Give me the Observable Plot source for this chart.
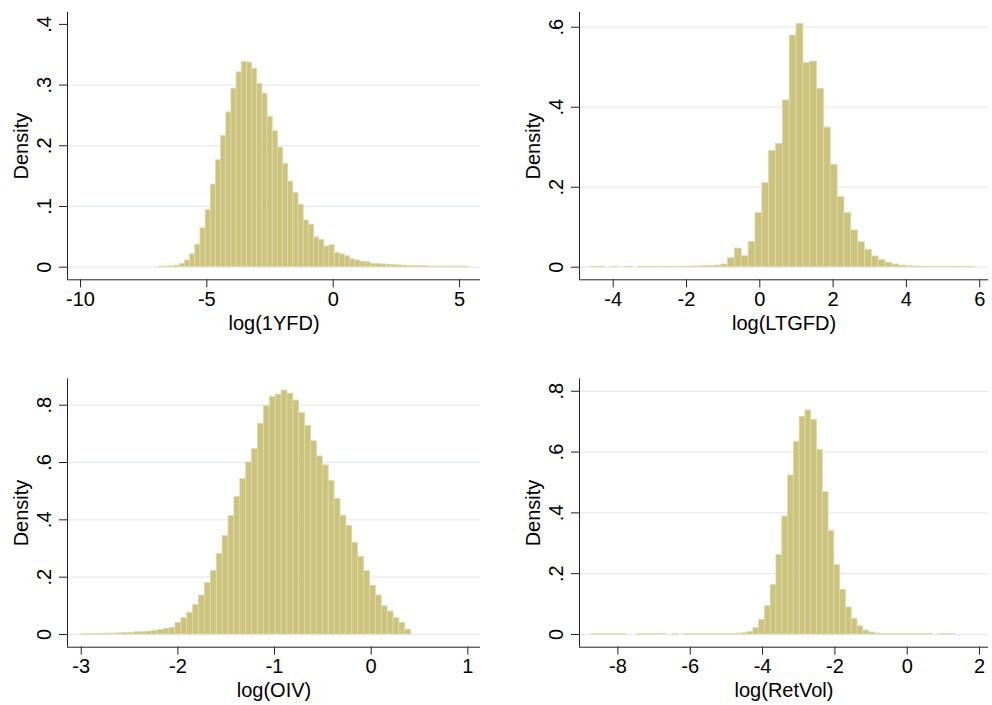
<!DOCTYPE html>
<html><head><meta charset="utf-8">
<script src="https://cdn.jsdelivr.net/npm/d3@7"></script>
<script src="https://cdn.jsdelivr.net/npm/@observablehq/plot@0.6"></script>
<style>
body{margin:0;background:#fff;}
#wrap{position:relative;width:992px;height:705px;background:#fff;overflow:hidden;}
</style></head><body><div id="wrap"></div>
<script>
// ---- Panel 1: log(1YFD) ----
const yfdDensity = [0.0008, 0.001, 0.0015, 0.0025, 0.005, 0.011, 0.021, 0.037, 0.064, 0.094,
  0.136, 0.176, 0.216, 0.255, 0.294, 0.321, 0.338, 0.337, 0.327, 0.302,
  0.286, 0.248, 0.224, 0.197, 0.170, 0.141, 0.122, 0.103, 0.077, 0.070,
  0.049, 0.045, 0.034, 0.036, 0.023, 0.021, 0.018, 0.013, 0.011, 0.009,
  0.008, 0.0055, 0.005, 0.0045, 0.004, 0.0035, 0.003, 0.0025, 0.002, 0.002,
  0.0015, 0.0015, 0.001, 0.001, 0.001, 0.001, 0.001, 0.001, 0.001, 0.001];
const yfdRange = [-6.886, 5.366];
const yfdXTicks = [-10, -5, 0, 5];
const yfdYTicks = [0, 0.1, 0.2, 0.3, 0.4];
const yfdGrid = [0, 0.1, 0.2, 0.3];

// ---- Panel 2: log(LTGFD) ----
const ltgDensity = [0.001, 0.001, 0, 0.001, 0, 0.001, 0, 0.001, 0.001, 0.001,
  0.001, 0.001, 0.001, 0.001, 0.0015, 0.002, 0.0025, 0.003, 0.004, 0.0067,
  0.0225, 0.0467, 0.0275, 0.0633, 0.135, 0.21, 0.291, 0.308, 0.417, 0.579,
  0.608, 0.51, 0.514, 0.446, 0.349, 0.256, 0.175, 0.135, 0.0917, 0.0625,
  0.0433, 0.0267, 0.0175, 0.011, 0.0067, 0.004, 0.0025, 0.0017, 0.001, 0.001,
  0.001, 0.001, 0.001, 0.001, 0.001, 0.001];
const ltgRange = [-4.601, 5.858];
const ltgXTicks = [-4, -2, 0, 2, 4, 6];
const ltgYTicks = [0, 0.2, 0.4, 0.6];
const ltgGrid = [0, 0.2, 0.4, 0.6];

// ---- Panel 3: log(OIV) ----
const oivDensity = [0.001, 0.001, 0.002, 0.002, 0.003, 0.003, 0.004, 0.005, 0.006, 0.008,
  0.009, 0.01, 0.013, 0.016, 0.02, 0.023, 0.04, 0.057, 0.076, 0.103,
  0.136, 0.18, 0.221, 0.281, 0.344, 0.414, 0.48, 0.542, 0.6, 0.647,
  0.735, 0.797, 0.828, 0.837, 0.851, 0.84, 0.816, 0.773, 0.728, 0.674,
  0.621, 0.59, 0.535, 0.473, 0.414, 0.379, 0.32, 0.27, 0.221, 0.17,
  0.136, 0.098, 0.08, 0.057, 0.04, 0.017];
const oivRange = [-3.0, 0.414];
const oivXTicks = [-3, -2, -1, 0, 1];
const oivYTicks = [0, 0.2, 0.4, 0.6, 0.8];
const oivGrid = [0, 0.2, 0.4, 0.6, 0.8];

// ---- Panel 4: log(RetVol) ----
const rvDensity = [0.001, 0.001, 0.001, 0.001, 0.001, 0.001, 0, 0, 0.001, 0.001,
  0.001, 0.001, 0.001, 0, 0.001, 0, 0.001, 0.001, 0.001, 0.001,
  0.001, 0.001, 0.001, 0.0015, 0.002, 0.003, 0.004, 0.0077, 0.0208, 0.048,
  0.093, 0.163, 0.262, 0.388, 0.523, 0.634, 0.716, 0.737, 0.706, 0.607,
  0.468, 0.341, 0.228, 0.147, 0.089, 0.052, 0.027, 0.013, 0.0066, 0.0033,
  0.002, 0.001, 0.001, 0.001, 0.001, 0.001, 0.001, 0.001, 0.001, 0,
  0.001, 0.001, 0.001];
const rvRange = [-8.735, 1.345];
const rvXTicks = [-8, -6, -4, -2, 0, 2];
const rvYTicks = [0, 0.2, 0.4, 0.6, 0.8];
const rvGrid = [0, 0.2, 0.4, 0.6, 0.8];

const FONT = "'Liberation Sans', Arial, Helvetica, sans-serif";
const FS = 20;
const fmtY = d => d === 0 ? "0" : String(d).replace(/^0\./, ".");

function panel(p) {
  const n = p.density.length;
  const w = (p.range[1] - p.range[0]) / n;
  const bins = p.density.map((d, i) => ({x1: p.range[0] + i * w, x2: p.range[0] + (i + 1) * w, y: d}));
  const chart = Plot.plot({
    width: p.width, height: p.height,
    marginLeft: p.mL, marginRight: p.mR, marginTop: p.mT, marginBottom: p.mB,
    style: {fontFamily: FONT, background: "transparent", overflow: "visible"},
    x: {domain: p.xDomain, axis: null},
    y: {domain: p.yDomain, axis: null},
    marks: [
      Plot.ruleY(p.grid, {stroke: "#E4ECEF", strokeWidth: 1.3}),
      Plot.rectY(bins, {x1: "x1", x2: "x2", y1: 0, y2: "y", fill: "#CBC37E", stroke: "#DEDAAA", strokeWidth: 0.8, inset: 0}),
      Plot.ruleX([p.xDomain[0]], {stroke: "#222", strokeWidth: 1}),
      Plot.ruleY([p.yDomain[0]], {stroke: "#222", strokeWidth: 1}),
      Plot.axisX(p.xTicks, {tickSize: 8, tickPadding: 4, fontSize: FS, tickFormat: d => String(d), label: null, stroke: "#222", fill: "#000"}),
      Plot.axisY(p.yTicks, {tickSize: 8, tickFormat: () => "", label: null, stroke: "#222"}),
      Plot.text(p.yTicks, {y: d => d, text: fmtY, frameAnchor: "left", dx: -17, rotate: -90, textAnchor: "middle", lineAnchor: "bottom", fontSize: FS, fill: "#000"}),
      Plot.text(["Density"], {text: d => d, frameAnchor: "left", dx: -40, rotate: -90, textAnchor: "middle", lineAnchor: "bottom", fontSize: FS, fill: "#000"}),
      Plot.text([p.title], {text: d => d, frameAnchor: "bottom", dy: 50, lineAnchor: "bottom", textAnchor: "middle", fontSize: FS, fill: "#000"})
    ]
  });
  chart.style.position = "absolute";
  chart.style.left = p.left + "px";
  chart.style.top = p.top + "px";
  document.getElementById("wrap").appendChild(chart);
}

panel({density: yfdDensity, range: yfdRange, xTicks: yfdXTicks, yTicks: yfdYTicks, grid: yfdGrid,
  xDomain: [-10.514, 5.829], yDomain: [-0.0208, 0.4196], title: "log(1YFD)",
  left: 0, top: 0, width: 496, height: 352, mL: 67, mR: 16, mT: 12, mB: 72.7});
panel({density: ltgDensity, range: ltgRange, xTicks: ltgXTicks, yTicks: ltgYTicks, grid: ltgGrid,
  xDomain: [-4.92, 6.24], yDomain: [-0.0315, 0.6368], title: "log(LTGFD)",
  left: 496, top: 0, width: 496, height: 352, mL: 83, mR: 4, mT: 12, mB: 72.7});
panel({density: oivDensity, range: oivRange, xTicks: oivXTicks, yTicks: oivYTicks, grid: oivGrid,
  xDomain: [-3.142, 1.131], yDomain: [-0.0443, 0.892], title: "log(OIV)",
  left: 0, top: 352, width: 496, height: 353, mL: 67, mR: 16, mT: 26.3, mB: 58.3});
panel({density: rvDensity, range: rvRange, xTicks: rvXTicks, yTicks: rvYTicks, grid: rvGrid,
  xDomain: [-9.062, 2.248], yDomain: [-0.0418, 0.841], title: "log(RetVol)",
  left: 496, top: 352, width: 496, height: 353, mL: 83, mR: 4, mT: 26.3, mB: 58.3});
</script>
</body></html>
